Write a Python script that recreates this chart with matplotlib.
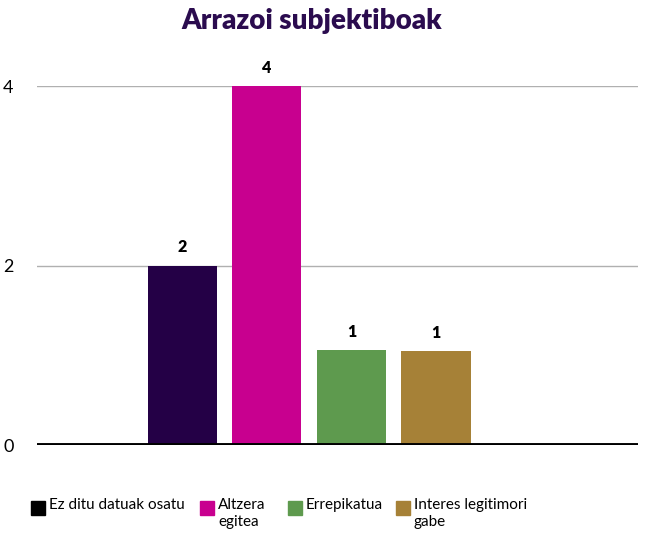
import matplotlib
matplotlib.use("Agg")
import matplotlib.pyplot as plt
from matplotlib.patches import Rectangle

categories = ["Ez ditu datuak osatu", "Altzera egitea", "Errepikatua", "Interes legitimori gabe"]
legend_labels = ["Ez ditu datuak osatu", "Altzera\negitea", "Errepikatua", "Interes legitimori\ngabe"]
values = [2, 4, 1.06, 1.05]
value_labels = ["2", "4", "1", "1"]
colors = ["#240046", "#c8008f", "#5e9a4e", "#a68137"]
legend_colors = ["#000000", "#c8008f", "#5e9a4e", "#a68137"]
yticks = [0, 2, 4]

plt.rcParams['font.family'] = ['Lato', 'DejaVu Sans']

fig = plt.figure(figsize=(6.45, 5.34), dpi=100)
ax = fig.add_axes([37/645, 89/534, 601/645, 359/534])

x = list(range(len(categories)))
bars = ax.bar(x, values, width=0.817, color=colors, zorder=3)
ax.set_xlim(-1.72, 5.39)
ax.set_ylim(0, 4)
ax.set_yticks(yticks)
ax.set_yticklabels([str(t) for t in yticks], fontsize=13)
ax.tick_params(axis='y', length=0, pad=17)
ax.set_xticks([])
for s in ax.spines.values():
    s.set_visible(False)
ax.grid(axis='y', color='#b0b0b0', linewidth=1, zorder=0)
ax.axhline(0, color='black', linewidth=2.8, zorder=4)

for b, lab in zip(bars, value_labels):
    ax.annotate(lab, (b.get_x() + b.get_width()/2, b.get_height()),
                xytext=(0, 13), textcoords='offset points', ha='center', va='center',
                fontsize=11.5, fontweight='heavy', clip_on=False)

fig.text(312/645, 1 - 21/534, "Arrazoi subjektiboak", ha='center', va='center',
         fontsize=20, fontweight='heavy', color='#2b0c4f')

marker_x = [31, 200, 288, 396]
for mx, lab, c in zip(marker_x, legend_labels, legend_colors):
    fig.patches.append(Rectangle((mx/645, 1 - 515/534), 14/645, 14/534,
                                 transform=fig.transFigure, color=c, figure=fig))
    fig.text((mx + 18)/645, 1 - 498/534, lab, ha='left', va='top', fontsize=11,
             linespacing=1.25)

fig.savefig("out.png", dpi=100)
